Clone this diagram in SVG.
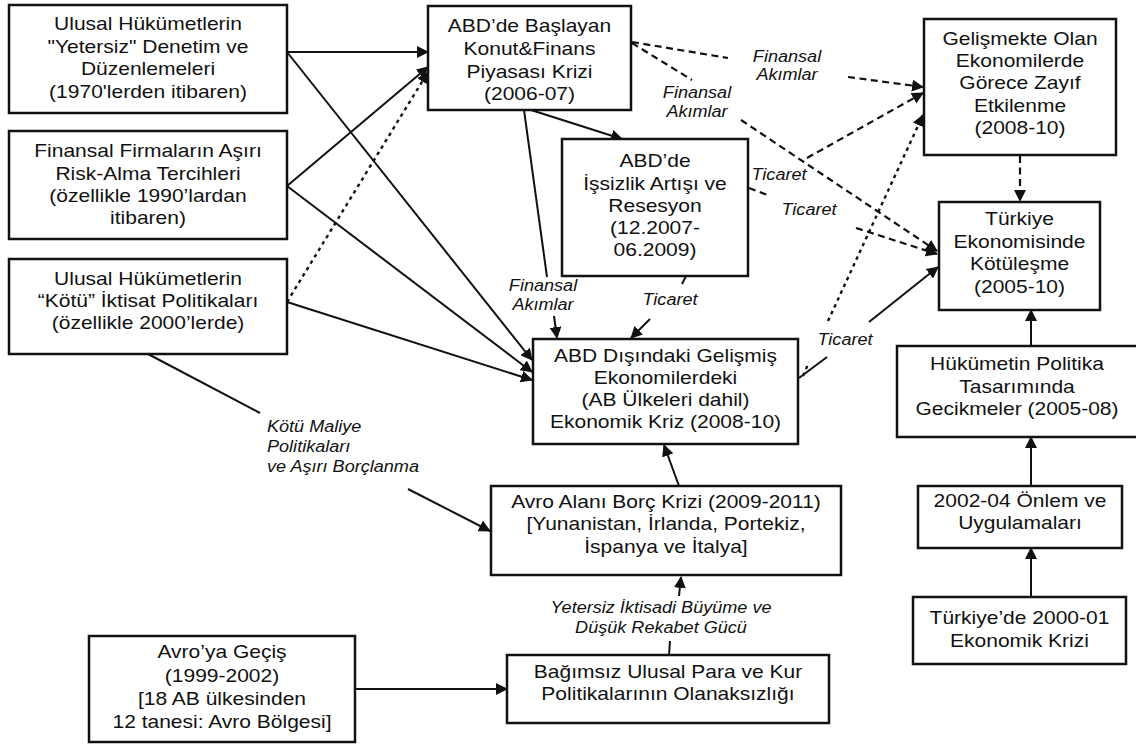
<svg xmlns="http://www.w3.org/2000/svg" width="1136" height="745" viewBox="0 0 1136 745">
<style>
.box{fill:#fff;stroke:#111;stroke-width:2.5}
.t{font-family:"Liberation Sans",Arial,sans-serif;font-size:18.6px;fill:#111;text-anchor:middle}
.lb{font-family:"Liberation Sans",Arial,sans-serif;font-size:16px;font-style:italic;fill:#111;text-anchor:middle}
.s{fill:none;stroke:#111;stroke-width:2}
.d{fill:none;stroke:#111;stroke-width:2.2;stroke-dasharray:7 4.5}
.o{fill:none;stroke:#111;stroke-width:2.4;stroke-dasharray:3.5 4}
.a{marker-end:url(#ah)}
</style>
<defs>
<marker id="ah" viewBox="0 0 12 12" refX="11" refY="6" markerWidth="12" markerHeight="12" markerUnits="userSpaceOnUse" orient="auto">
<path d="M0,0 L12,6 L0,12 z" fill="#111"/>
</marker>
</defs>
<rect width="1136" height="745" fill="#fff"/>

<g id="connectors">
<line class="s a" x1="287" y1="52" x2="428" y2="52"/>
<line class="s a" x1="287" y1="52" x2="532" y2="360"/>
<line class="s a" x1="287" y1="186" x2="428" y2="67"/>
<line class="s a" x1="287" y1="186" x2="532" y2="372"/>
<line class="s a" x1="287" y1="302" x2="532" y2="380"/>
<line class="o a" x1="287" y1="302" x2="428" y2="72"/>
<line class="s a" x1="531" y1="110" x2="622" y2="139"/>
<line class="s" x1="524" y1="110" x2="547" y2="277"/>
<line class="s a" x1="554" y1="316" x2="557" y2="338"/>
<line class="s" x1="686" y1="276" x2="682" y2="284"/>
<line class="s a" x1="650" y1="319" x2="631" y2="338"/>
<line class="s" x1="148" y1="354" x2="260" y2="413"/>
<line class="s a" x1="408" y1="489" x2="490" y2="531"/>
<line class="s a" x1="679" y1="486" x2="664" y2="445"/>
<line class="s" x1="669" y1="655" x2="670" y2="641"/>
<line class="s a" x1="679" y1="596" x2="681" y2="577"/>
<line class="s a" x1="355" y1="689" x2="507" y2="689"/>
<line class="s a" x1="1031" y1="597" x2="1031" y2="548"/>
<line class="s a" x1="1031" y1="486" x2="1031" y2="437"/>
<line class="s a" x1="1031" y1="346" x2="1031" y2="310"/>
<line class="s" x1="799" y1="378" x2="827" y2="357"/>
<line class="s a" x1="869" y1="322" x2="938" y2="267"/>
<line class="d" x1="632" y1="42" x2="728" y2="58"/>
<line class="d a" x1="848" y1="77" x2="923" y2="87"/>
<line class="d" x1="632" y1="43" x2="692" y2="80"/>
<line class="d a" x1="741" y1="120" x2="937" y2="251"/>
<line class="d a" x1="807" y1="158" x2="923" y2="93"/>
<line class="d" x1="749" y1="188" x2="770" y2="196"/>
<line class="d a" x1="856" y1="228" x2="937" y2="254"/>
<line class="d a" x1="1020" y1="156" x2="1020" y2="201"/>
<line class="o" x1="803" y1="376" x2="809" y2="362"/>
<line class="o a" x1="828" y1="321" x2="923" y2="115"/>
<text class="lb" transform="translate(787 0) scale(1.13 1)"><tspan x="0" y="62">Finansal</tspan><tspan x="0" y="80">Akımlar</tspan></text>
<text class="lb" transform="translate(697 0) scale(1.13 1)"><tspan x="0" y="98">Finansal</tspan><tspan x="0" y="117">Akımlar</tspan></text>
<text class="lb" transform="translate(543 0) scale(1.13 1)"><tspan x="0" y="291">Finansal</tspan><tspan x="0" y="310">Akımlar</tspan></text>
<text class="lb" transform="translate(670 0) scale(1.13 1)"><tspan x="0" y="305">Ticaret</tspan></text>
<text class="lb" transform="translate(779 0) scale(1.13 1)"><tspan x="0" y="180">Ticaret</tspan></text>
<text class="lb" transform="translate(809 0) scale(1.13 1)"><tspan x="0" y="215">Ticaret</tspan></text>
<text class="lb" transform="translate(845 0) scale(1.13 1)"><tspan x="0" y="345">Ticaret</tspan></text>
<text class="lb" style="text-anchor:start" transform="translate(267 0) scale(1.13 1)"><tspan x="0" y="432">Kötü Maliye</tspan><tspan x="0" y="452">Politikaları</tspan><tspan x="0" y="472">ve Aşırı Borçlanma</tspan></text>
<text class="lb" transform="translate(661 0) scale(1.13 1)"><tspan x="0" y="613">Yetersiz İktisadi Büyüme ve</tspan><tspan x="0" y="633">Düşük Rekabet Gücü</tspan></text>
</g>

<g id="node-A"><rect class="box" x="9" y="5" width="278" height="108"/>
<text class="t" transform="translate(148 0) scale(1.13 1)"><tspan x="0" y="30">Ulusal Hükümetlerin</tspan><tspan x="0" y="53">"Yetersiz" Denetim ve</tspan><tspan x="0" y="75">Düzenlemeleri</tspan><tspan x="0" y="98">(1970'lerden itibaren)</tspan></text></g>

<g id="node-B"><rect class="box" x="9" y="131" width="278" height="108"/>
<text class="t" transform="translate(148 0) scale(1.13 1)"><tspan x="0" y="157">Finansal Firmaların Aşırı</tspan><tspan x="0" y="180">Risk-Alma Tercihleri</tspan><tspan x="0" y="202">(özellikle 1990’lardan</tspan><tspan x="0" y="224">itibaren)</tspan></text></g>

<g id="node-C"><rect class="box" x="9" y="259" width="278" height="95"/>
<text class="t" transform="translate(148 0) scale(1.13 1)"><tspan x="0" y="285">Ulusal Hükümetlerin</tspan><tspan x="0" y="307">“Kötü” İktisat Politikaları</tspan><tspan x="0" y="329">(özellikle 2000’lerde)</tspan></text></g>

<g id="node-D"><rect class="box" x="428" y="6" width="203" height="104"/>
<text class="t" transform="translate(529.5 0) scale(1.13 1)"><tspan x="0" y="32">ABD’de Başlayan</tspan><tspan x="0" y="55">Konut&amp;Finans</tspan><tspan x="0" y="78">Piyasası Krizi</tspan><tspan x="0" y="100">(2006-07)</tspan></text></g>

<g id="node-E"><rect class="box" x="562" y="139" width="186" height="137"/>
<text class="t" transform="translate(655 0) scale(1.13 1)"><tspan x="0" y="167">ABD’de</tspan><tspan x="0" y="190">İşsizlik Artışı ve</tspan><tspan x="0" y="212">Resesyon</tspan><tspan x="0" y="234">(12.2007-</tspan><tspan x="0" y="256">06.2009)</tspan></text></g>

<g id="node-F"><rect class="box" x="533" y="339" width="265" height="105"/>
<text class="t" transform="translate(665.5 0) scale(1.13 1)"><tspan x="0" y="362">ABD Dışındaki Gelişmiş</tspan><tspan x="0" y="384">Ekonomilerdeki</tspan><tspan x="0" y="406">(AB Ülkeleri dahil)</tspan><tspan x="0" y="428">Ekonomik Kriz (2008-10)</tspan></text></g>

<g id="node-G"><rect class="box" x="924" y="19" width="192" height="136"/>
<text class="t" transform="translate(1020 0) scale(1.13 1)"><tspan x="0" y="45">Gelişmekte Olan</tspan><tspan x="0" y="67">Ekonomilerde</tspan><tspan x="0" y="89">Görece Zayıf</tspan><tspan x="0" y="112">Etkilenme</tspan><tspan x="0" y="134">(2008-10)</tspan></text></g>

<g id="node-H"><rect class="box" x="939" y="202" width="161" height="108"/>
<text class="t" transform="translate(1019.5 0) scale(1.13 1)"><tspan x="0" y="225">Türkiye</tspan><tspan x="0" y="248">Ekonomisinde</tspan><tspan x="0" y="270">Kötüleşme</tspan><tspan x="0" y="293">(2005-10)</tspan></text></g>

<g id="node-I"><rect class="box" x="897" y="346" width="242" height="91"/>
<text class="t" transform="translate(1017 0) scale(1.13 1)"><tspan x="0" y="370">Hükümetin Politika</tspan><tspan x="0" y="393">Tasarımında</tspan><tspan x="0" y="415">Gecikmeler (2005-08)</tspan></text></g>

<g id="node-J"><rect class="box" x="918" y="486" width="204" height="62"/>
<text class="t" transform="translate(1020 0) scale(1.13 1)"><tspan x="0" y="507">2002-04 Önlem ve</tspan><tspan x="0" y="529">Uygulamaları</tspan></text></g>

<g id="node-K"><rect class="box" x="913" y="597" width="213" height="67"/>
<text class="t" transform="translate(1019.5 0) scale(1.13 1)"><tspan x="0" y="624">Türkiye’de 2000-01</tspan><tspan x="0" y="647">Ekonomik Krizi</tspan></text></g>

<g id="node-L"><rect class="box" x="491" y="486" width="350" height="89"/>
<text class="t" transform="translate(666 0) scale(1.13 1)"><tspan x="0" y="508">Avro Alanı Borç Krizi (2009-2011)</tspan><tspan x="0" y="530">[Yunanistan, İrlanda, Portekiz,</tspan><tspan x="0" y="553">İspanya ve İtalya]</tspan></text></g>

<g id="node-M"><rect class="box" x="507" y="655" width="322" height="68"/>
<text class="t" transform="translate(668 0) scale(1.13 1)"><tspan x="0" y="678">Bağımsız Ulusal Para ve Kur</tspan><tspan x="0" y="700">Politikalarının Olanaksızlığı</tspan></text></g>

<g id="node-N"><rect class="box" x="89" y="636" width="266" height="106"/>
<text class="t" transform="translate(222 0) scale(1.13 1)"><tspan x="0" y="658">Avro’ya Geçiş</tspan><tspan x="0" y="682">(1999-2002)</tspan><tspan x="0" y="705">[18 AB ülkesinden</tspan><tspan x="0" y="728">12 tanesi: Avro Bölgesi]</tspan></text></g>
</svg>
